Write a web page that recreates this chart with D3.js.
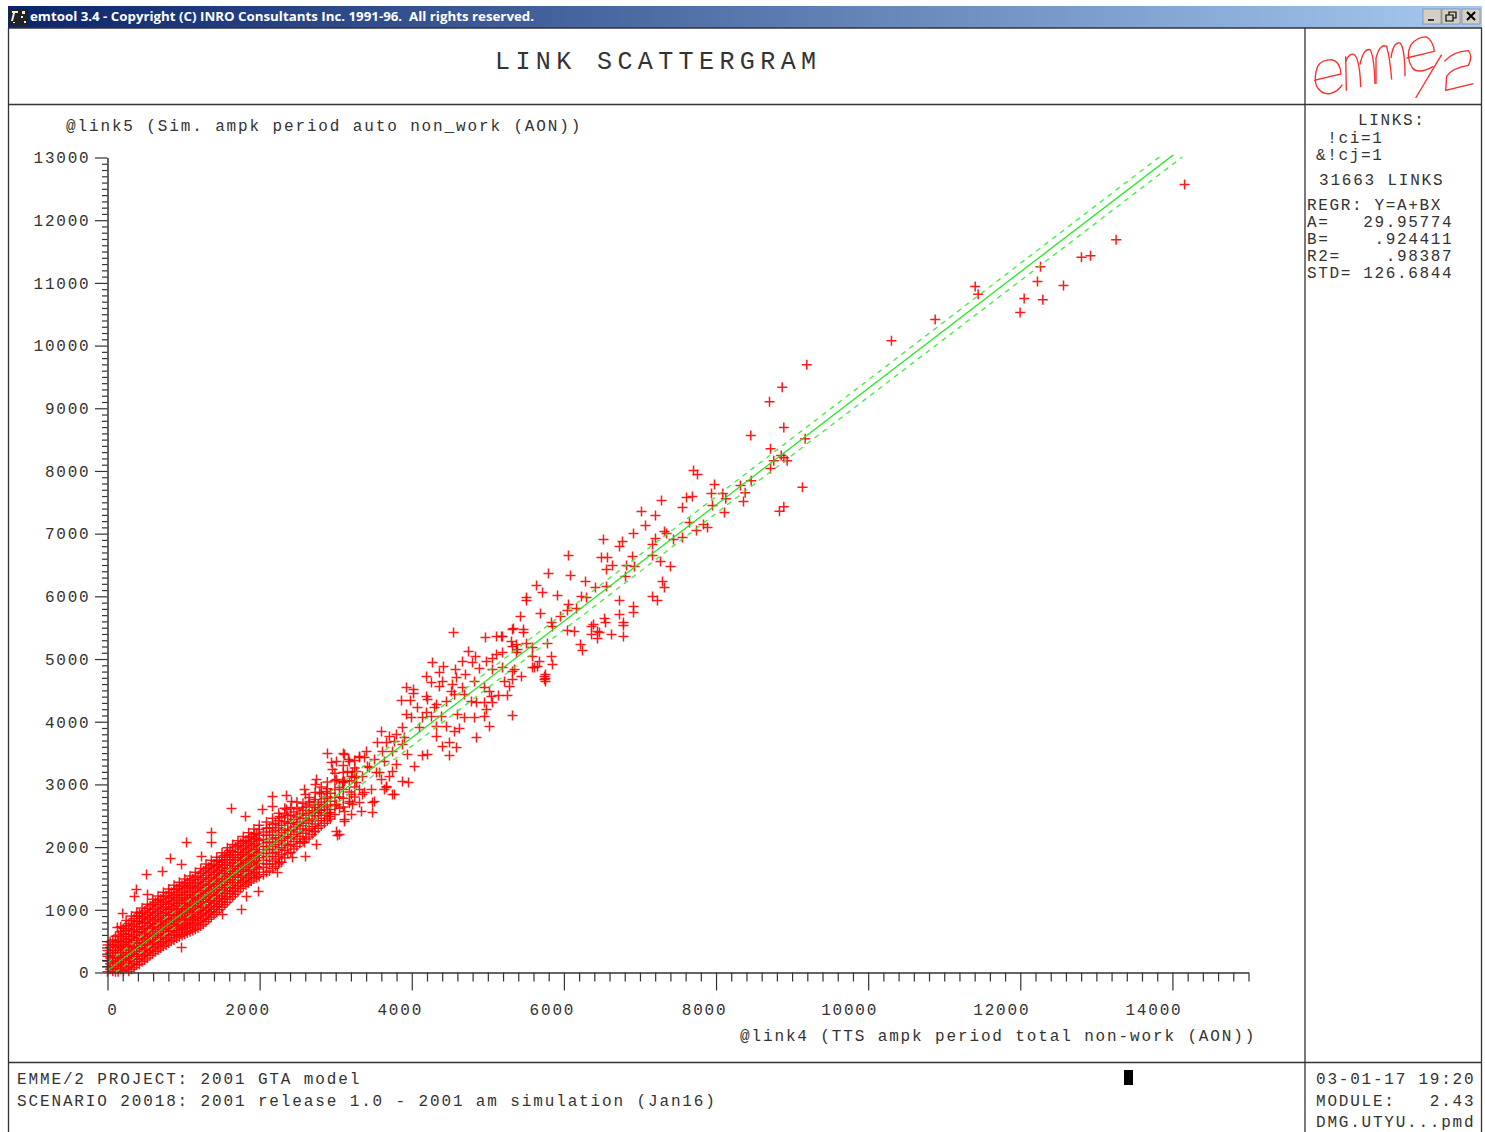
<!DOCTYPE html>
<html><head><meta charset="utf-8">
<style>html,body{margin:0;padding:0;background:#fff;overflow:hidden}svg{display:block}</style>
<script src="https://cdn.jsdelivr.net/npm/d3@7/dist/d3.min.js"></script>
</head><body><svg id="c" width="1485" height="1132"></svg>
<script>
const windowTitle = "emtool 3.4 - Copyright (C) INRO Consultants Inc. 1991-96.  All rights reserved.";
const chartTitle = "LINK SCATTERGRAM";
const yTitle = "@link5 (Sim. ampk period auto non_work (AON))";
const xTitle = "@link4 (TTS ampk period total non-work (AON))";
const xMajorTicks = [0,2000,4000,6000,8000,10000,12000,14000];
const yMajorTicks = [0,1000,2000,3000,4000,5000,6000,7000,8000,9000,10000,11000,12000,13000];
const infoLines = ["    LINKS:"," !ci=1","&!cj=1"];
const linkCount = "31663 LINKS";
const regrLines = ["REGR: Y=A+BX","A=   29.95774","B=    .924411","R2=    .98387","STD= 126.6844"];
const footerLeft = ["EMME/2 PROJECT: 2001 GTA model","SCENARIO 20018: 2001 release 1.0 - 2001 am simulation (Jan16)"];
const footerRight = ["03-01-17 19:20","MODULE:   2.43","DMG.UTYU...pmd"];

const solidLine = [[0,30],[14010,13040]];
const upperLine = [[0,157],[13850,13030]];
const lowerLine = [[105,0],[14130,13010]];

const denseX = [0,70,140,210,280,350,420,490,560,630,700,770,840,910,980,1050,1120,1190,1260,1330,1400,1470,1540,1610,1680,1750,1820,1890,1960,
 2050,2130,2210,2290,2370,2450,2530,2610,2690,2770,2850,2930,3050,3180];
const denseY = [
 [10,90,180,260,350,440],
 [20,100,190,270,360,450,520],
 [10,90,170,260,350,430,510,600],
 [30,110,200,280,370,450,540,620,700],
 [20,100,190,270,360,440,530,610,700,780],
 [80,170,250,340,420,510,600,680,770,860],
 [130,220,300,390,470,560,650,730,820,900,940],
 [200,280,370,450,540,630,710,800,890,980],
 [270,350,440,520,610,700,780,870,960,1060],
 [330,420,500,590,680,760,850,940,1030,1120],
 [390,480,560,650,740,820,910,1000,1090,1170],
 [440,530,610,700,790,870,960,1050,1140,1230],
 [500,590,670,760,850,930,1020,1110,1200,1280],
 [550,640,720,810,900,980,1070,1160,1250,1340],
 [590,680,760,850,940,1020,1110,1200,1300,1390],
 [630,720,800,890,980,1070,1160,1250,1350,1440],
 [670,760,850,930,1020,1110,1200,1300,1390,1490],
 [710,800,890,980,1070,1160,1250,1350,1440,1540],
 [770,860,950,1040,1130,1220,1310,1410,1510,1620],
 [850,940,1030,1120,1210,1300,1390,1490,1590,1680],
 [920,1010,1100,1190,1280,1370,1460,1560,1650,1730],
 [1000,1090,1180,1270,1360,1450,1540,1630,1720,1790],
 [1080,1170,1260,1350,1440,1530,1620,1710,1800,1870],
 [1170,1260,1350,1440,1530,1620,1710,1800,1880,1950],
 [1250,1340,1430,1520,1610,1700,1790,1880,2000],
 [1340,1430,1520,1610,1700,1790,1880,1970,2060],
 [1400,1490,1580,1670,1760,1850,1940,2030,2110],
 [1460,1550,1640,1730,1820,1910,2000,2090,2170],
 [1510,1600,1690,1780,1870,1960,2050,2140,2220],
 [1560,1680,1790,1900,2010,2120,2240],
 [1620,1730,1850,1960,2080,2190,2310],
 [1690,1810,1920,2040,2150,2270,2380],
 [1760,1880,1990,2110,2230,2350,2470],
 [1900,2020,2140,2260,2380,2500],
 [1970,2090,2200,2320,2440,2560],
 [2060,2170,2290,2400,2530],
 [2130,2260,2380,2510,2640],
 [2200,2330,2450,2580],
 [2300,2420,2550,2680],
 [2380,2510,2640,2770],
 [2450,2600,2730,2860],
 [2620,2800,2950],
 [2700,2880,3060]
];
const fillX = [35,105,175,245,315,385,455,525,595,665,735,805,875,945,1015,1085,1155,1225,1295,1365,1435,1505,1575,1645,1715,1785,1855,1925,1995,
 2090,2170,2250,2330,2410,2490,2570,2650,2730,2810,2890,2990,3100,3250];
const fillY = [
 [50,140,230,310,400,490],
 [10,60,150,240,320,410,490,580],
 [50,130,220,310,390,480,570,650,730],
 [70,150,240,320,410,500,580,670,750,830],
 [50,140,220,310,400,480,570,660,740,830,900],
 [120,210,290,380,470,550,640,730,810,900,960],
 [170,260,340,430,520,600,690,780,860,950,1030],
 [230,320,400,490,580,660,750,840,930,1020,1090],
 [300,390,470,560,650,730,820,910,1000,1090,1170],
 [360,450,530,620,710,790,880,970,1060,1150,1220],
 [420,500,590,680,760,850,940,1030,1120,1210,1280],
 [470,560,650,730,820,910,1000,1090,1180,1270,1330],
 [520,610,700,780,870,960,1050,1140,1230,1320,1390],
 [570,660,740,830,920,1010,1100,1190,1280,1370,1440],
 [610,700,780,870,960,1050,1140,1230,1330,1420,1490],
 [650,740,830,910,1000,1090,1180,1280,1370,1470,1540],
 [690,780,870,960,1050,1140,1230,1330,1420,1520,1600],
 [740,830,920,1010,1100,1190,1280,1380,1480,1580,1660],
 [810,900,990,1080,1170,1260,1350,1450,1550,1650,1730],
 [880,970,1060,1150,1240,1330,1420,1520,1620,1710,1790],
 [960,1050,1140,1230,1320,1410,1500,1600,1690,1770,1840],
 [1040,1130,1220,1310,1400,1490,1580,1670,1760,1840,1910],
 [1120,1210,1300,1390,1480,1570,1660,1750,1840,1910,1990],
 [1210,1300,1390,1480,1570,1660,1750,1840,1930,2040],
 [1290,1380,1470,1560,1650,1740,1830,1920,2020,2100],
 [1370,1460,1550,1640,1730,1820,1910,2000,2090,2170],
 [1430,1520,1610,1700,1790,1880,1970,2060,2150,2230],
 [1490,1580,1670,1760,1850,1940,2030,2120,2200,2290],
 [1530,1650,1740,1830,1920,2010,2100,2190,2280,2350],
 [1600,1730,1850,1960,2070,2190,2300,2400],
 [1660,1780,1900,2010,2130,2240,2360,2460],
 [1730,1850,1960,2080,2190,2310,2420,2540],
 [1830,1950,2050,2170,2290,2410,2530,2620],
 [1920,2040,2160,2270,2390,2510,2630],
 [2010,2130,2240,2360,2480,2610,2720],
 [2090,2220,2340,2460,2590,2700],
 [2160,2290,2420,2540,2670,2790],
 [2250,2370,2500,2630,2760,2870],
 [2340,2460,2590,2720,2850,2960],
 [2420,2540,2670,2800,2930,3040],
 [2520,2660,2790,2920,3060,3180],
 [2640,2780,2920,3050,3190,3300],
 [2800,2960,3110,3260,3380]
];

const lowOutliers = [[200,941],[130,718],[380,1324],[355,1212],[526,1244],[513,1563],[723,1611],[828,1818],[1039,2074],[973,1723],[1236,1850],[1367,2233],[1367,2074],[1630,2616],[1814,2488],[2038,2600],[2169,2807],[2353,2823],[2419,2727],[2169,2648],[2261,2488],[2353,2600],[2590,2919],[2603,2839],[2748,3078],[2734,2999],
 [973,399],[1512,925],[1762,1005],[1827,1212],[1985,1292],[3024,2185],[3116,2408],[2235,1595],[2261,1755],[2432,1834],[2603,1850],[2590,2074],[2748,2042],[2721,2249],[3050,2201],[3010,2249]];

const midPoints = [[2892,3493],[3102,3493],[3168,3397],[2945,3350],[3010,3365],[2958,3238],[3313,3445],[3379,3429],[3155,3206],[3010,3078],[3089,3031],[3208,3126],[3273,3206],[2879,2887],[2787,2871],[2563,2632],[2655,2727],[2721,2712],[2787,2600],[2721,2552],[2918,2552],[3010,2680],[3116,2568],[3221,2680],[3339,2568],[3484,2552],[3352,2839],[3510,2727],[3641,2919],[3747,2839],[3668,2967],[3602,3078],[3707,3126],[3536,3190],[3444,3270],[3352,3126],[2918,2488],[3116,2440],[3208,2520],
 [3116,3477],[3313,3429],[3510,3397],[3641,3365],[3799,3318],[4036,3286],[3181,3365],[3418,3286],[3221,3190],[3576,3190],[3747,3206],[3878,3046],[3957,3031],[3668,2951],[3471,2919],[3773,2839],[3273,3031],[3116,3046],[3313,2919],[3208,2839],[3379,2871],[3484,2712],[3313,2712],[3181,2727],
 [3405,3525],[3615,3525],[3747,3525],[3944,3477],[4141,3461],[4207,3477],[4496,3461],[3549,3669],[3668,3669],[3773,3684],[3878,3637],[4404,3605],[4496,3669],[4588,3589],[3602,3844],[3707,3764],[3799,3796],[3904,3748],[4325,3764],[4851,3748],[3878,3908],[4102,3908],[4325,3924],[4456,3924],[4562,3844],[4627,3892],[5022,3924],
 [4075,4227],[3931,4115],[4194,4147],[4141,4067],[3996,4067],[4299,4227],[4259,4083],[4391,4083],[4601,4115],[4693,4067],[4825,4067],[4956,4083],[5324,4099],[3865,4338],[3983,4338],[4194,4402],[4207,4354],[4325,4275],[4456,4322],[4562,4434],[4693,4434],[4785,4322],[4851,4307],[4956,4307],[5061,4307],[4982,4195],
 [3931,4546],[4023,4514],[4023,4450],[4259,4626],[4404,4641],[4364,4562],[4535,4594],[4522,4482],[4667,4546],[4825,4641],[4956,4546],[5022,4482],[5140,4418],[5258,4418],[5048,4402],[4194,4721],[4364,4785],[4588,4705],[4706,4753],[5350,4833],[5758,4753],[5758,4689],[5758,4641],
 [4549,5423],[4969,5343],[5114,5359],[5180,5359],[5337,5487],[5377,5232],[5114,5072],[4746,5120],[4838,5040],[4667,4960],[4798,4945],[4272,4945],[4417,4881],[4575,4833],[4982,4960],[5061,5008],[4890,4849],[5061,4833],[5613,4865]];

const upperMidPoints = [[5429,5678],[5692,5726],[5955,5678],[5837,5583],[6731,5710],[6534,5646],[6547,5583],[6389,5551],[6783,5583],[6783,5535],[6363,5519],[5324,5471],[5193,5359],[5469,5471],[5469,5423],[5850,5519],[6047,5455],[6139,5439],[6442,5439],[6468,5423],[6363,5391],[6442,5327],[6626,5391],[6783,5359],[5311,5279],[5324,5200],[5508,5248],[5784,5248],[5587,5184],[5390,5152],[6218,5232],[6244,5136],[5193,5104],[5377,5104],[5837,5040],[5587,5040],[5679,4960],[5850,4913],[5587,4865],[5653,4881],[5324,4801],[5442,4721],[5745,4721],[5745,4673],[5193,4865],[5324,4673],[5219,4641],[5285,4562],
 [5508,5981],[5508,5933],[6231,5997],[6297,5981],[6060,5870],[6047,5774],[6166,5806],[6731,5933],[6915,5838],[6915,5742],[7165,5997],[7230,5933],[5797,6364],[6087,6332],[6810,6316],[6284,6236],[5640,6173],[5719,6061],[5916,6013],[6415,6141],[6560,6157],[7296,6236],[7322,6141],
 [6060,6651],[6494,6619],[6573,6619],[6902,6635],[7165,6651],[7270,6555],[6639,6492],[6560,6428],[6823,6492],[6928,6476],[7401,6476],[6520,6906],[6770,6874],[6731,6795],[7204,6922],[7165,6827],[7441,6906],[7559,6938],[6915,7002],[7322,7034],[7349,7002],
 [7283,7528],[7612,7576],[7690,7592],[7559,7417],[7020,7353],[7204,7289],[7073,7130],[7651,7178],[7743,7050],[7835,7146],[7888,7098],[7704,8007],[7756,7943],[7980,7784],[7940,7640],[7953,7449]];

const topPoints = [[14160,12570],[13260,11690],[12923,11431],[12804,11409],[12265,11256],[12226,11021],[12568,10958],[12051,10750],[12296,10730],[11998,10527],[11407,10942],[11446,10819],[10881,10415],[10306,10076],[9193,9693],[8870,9336],[8703,9103],[8891,8693],[8457,8565],[9172,8512],[8716,8353],[8857,8246],[8891,8209],[8759,8162],[8935,8162],[8716,8039],[8462,7843],[8321,7768],[8383,7651],[8089,7640],[8128,7556],[8361,7512],[9136,7741],[8891,7428],[8834,7358],[8111,7337]];

const svg = d3.select("#c");
const mono = "'Liberation Mono','Courier New',monospace";
function label(parent, s, x, y, size, pitch, anchor){
  return parent.append("text").attr("x",x).attr("y",y).attr("fill","#333")
    .attr("xml:space","preserve").style("white-space","pre")
    .style("font-family",mono).style("font-size",size+"px")
    .style("letter-spacing",(pitch-size*0.6)+"px")
    .attr("text-anchor",anchor||"start").text(s);
}

/* window chrome */
const defs = svg.append("defs");
const g = defs.append("linearGradient").attr("id","tb");
g.append("stop").attr("offset","0").attr("stop-color","#0a246a");
g.append("stop").attr("offset","1").attr("stop-color","#a6caf0");
svg.append("rect").attr("x",8).attr("y",6).attr("width",1474).attr("height",22).attr("fill","url(#tb)");
svg.append("rect").attr("x",10).attr("y",9).attr("width",18).attr("height",16).attr("fill","#222");
svg.append("path").attr("d","M12 11h6v2h-3l-2 8h-2l2-8h-1zM22 11h3v3h-3zM21 16h2v2h-2zM24 21h2v2h-2zM13 22h2v1h-2z").attr("fill","#eee");
svg.append("text").attr("x",30).attr("y",21).attr("fill","#fff").attr("textLength",504).attr("lengthAdjust","spacingAndGlyphs")
  .attr("xml:space","preserve").style("white-space","pre")
  .style("font-family","'Open Sans',sans-serif").style("font-weight",700).style("font-size","12.5px").text(windowTitle);
[1423,1442,1462].forEach((bx,i)=>{
  svg.append("rect").attr("x",bx).attr("y",9).attr("width",18).attr("height",15).attr("fill","#d4d0c8").attr("stroke","#777").attr("stroke-width",0.6);
  const b = svg.append("path").attr("fill","none").attr("stroke","#000").attr("stroke-width",1.5);
  if(i===0) b.attr("d",`M${bx+5} 20h6`);
  if(i===1) b.attr("d",`M${bx+7} 15v-3h7v6h-3M${bx+4} 15h7v6h-7z`).attr("stroke-width",1.2);
  if(i===2) b.attr("d",`M${bx+5} 12l8 8M${bx+13} 12l-8 8`).attr("stroke-width",2);
});

/* frame */
const frame = [[8.5,28,8.5,1132],[1481.5,28,1481.5,1132],[8,28,1482,28],[8,104.5,1482,104.5],[8,1062.5,1482,1062.5],[1305,28,1305,1132]];
svg.selectAll("line.frame").data(frame).join("line").attr("class","frame")
  .attr("x1",d=>d[0]).attr("y1",d=>d[1]).attr("x2",d=>d[2]).attr("y2",d=>d[3]).attr("stroke","#333").attr("stroke-width",1.3);

/* logo */
const logo = svg.append("g").attr("transform","translate(1305,28) scale(0.3333)").attr("fill","none").attr("stroke","#ff2a2a").attr("stroke-width",4);
["M27,157 L108,138 Q105,100 80,95 Q50,95 38,115 Q25,150 35,175 Q50,200 75,197 Q100,190 112,170",
 "M124,188 L122,85","M122,100 Q135,70 150,82 Q165,100 167,178","M165,110 Q175,60 195,65 Q207,80 210,168",
 "M213,168 L213,90 Q225,45 245,55 Q255,90 260,155","M258,90 Q265,40 285,45 Q300,60 300,145",
 "M305,90 L388,70 Q385,40 365,27 Q340,25 318,50 Q300,85 322,120 Q340,140 385,115",
 "M332,210 L410,80","M418,100 Q445,70 490,68 Q505,85 490,112 Q440,120 425,145 L422,187 L505,167"
].forEach(d=>logo.append("path").attr("d",d));

/* texts */
label(svg,chartTitle,495,69,25,20.4);
label(svg,yTitle,66,131,16,11.47);
label(svg,xTitle,740,1041,16,11.47);
const infoPos=[[1313,125],[1316,143],[1316,160]];
infoLines.forEach((s,i)=>label(svg,s,infoPos[i][0],infoPos[i][1],16,11.25));
label(svg,linkCount,1319,185,16,11.4);
regrLines.forEach((s,i)=>label(svg,s,1307,210+i*17,16,11.25));
footerLeft.forEach((s,i)=>label(svg,s,17,1084+i*22,16,11.47));
footerRight.forEach((s,i)=>label(svg,s,1316,1084+i*21.5,16,11.38));
svg.append("rect").attr("x",1124).attr("y",1070).attr("width",9).attr("height",15).attr("fill","#000");

/* scales */
const x = d3.scaleLinear().domain([0,15000]).range([107.5,1248.5]);
const y = d3.scaleLinear().domain([0,13000]).range([972.5,157.5]);

/* points */
const densePoints = denseX.flatMap((vx,i)=>denseY[i].map(vy=>[vx,vy]));
const fillPoints = fillX.flatMap((vx,i)=>fillY[i].map(vy=>[vx,vy]));
const allPoints = [...densePoints,...fillPoints,...lowOutliers,...midPoints,...upperMidPoints,...topPoints];
svg.append("g").selectAll("path").data(allPoints).join("path")
  .attr("transform",d=>`translate(${x(d[0])},${y(d[1])})`)
  .attr("d","M-5,0H5M0,-5V5").attr("fill","none").attr("stroke","#ff0000").attr("stroke-width",1.5).attr("stroke-opacity",0.9);

/* regression lines */
const lineGen = d3.line().x(d=>x(d[0])).y(d=>y(d[1]));
svg.append("path").attr("d",lineGen(solidLine)).attr("stroke","#10ee10").attr("stroke-width",1.2).attr("fill","none");
[upperLine,lowerLine].forEach(l=>svg.append("path").attr("d",lineGen(l)).attr("stroke","#30f030").attr("stroke-width",1.2).attr("stroke-dasharray","5 5").attr("fill","none"));

/* axes */
function styleAxis(a){ a.select(".domain").attr("stroke","#333"); a.selectAll(".tick line").attr("stroke","#333").attr("stroke-width",1.2); }
const minorX = d3.range(0,15001,200).filter(v=>v%2000!==0);
const minorY = d3.range(0,13001,100).filter(v=>v%1000!==0);
const ax = svg.append("g").attr("transform","translate(0,972.5)");
ax.call(d3.axisBottom(x).tickValues(minorX).tickSize(9).tickSizeOuter(0).tickFormat(""));
styleAxis(ax);
const axM = svg.append("g").attr("transform","translate(0,972.5)");
axM.call(d3.axisBottom(x).tickValues(xMajorTicks).tickSize(18).tickSizeOuter(0).tickFormat(d3.format("d")));
styleAxis(axM);
axM.selectAll("text").attr("y",42).attr("dy",0).attr("fill","#333")
  .attr("dx",d=>d===0?5:(d>=10000?-19:-12))
  .style("font-family",mono).style("font-size","16px").style("letter-spacing","1.8px");
const ay = svg.append("g").attr("transform","translate(107.5,0)");
ay.call(d3.axisLeft(y).tickValues(minorY).tickSize(5.5).tickSizeOuter(0).tickFormat(""));
styleAxis(ay);
const ayM = svg.append("g").attr("transform","translate(107.5,0)");
ayM.call(d3.axisLeft(y).tickValues(yMajorTicks).tickSize(12.5).tickSizeOuter(0).tickFormat(d3.format("d")));
styleAxis(ayM);
ayM.selectAll("text").attr("x",-17).attr("dy","0.33em").attr("fill","#333")
  .style("font-family",mono).style("font-size","16px").style("letter-spacing","1.8px");
</script></body></html>
